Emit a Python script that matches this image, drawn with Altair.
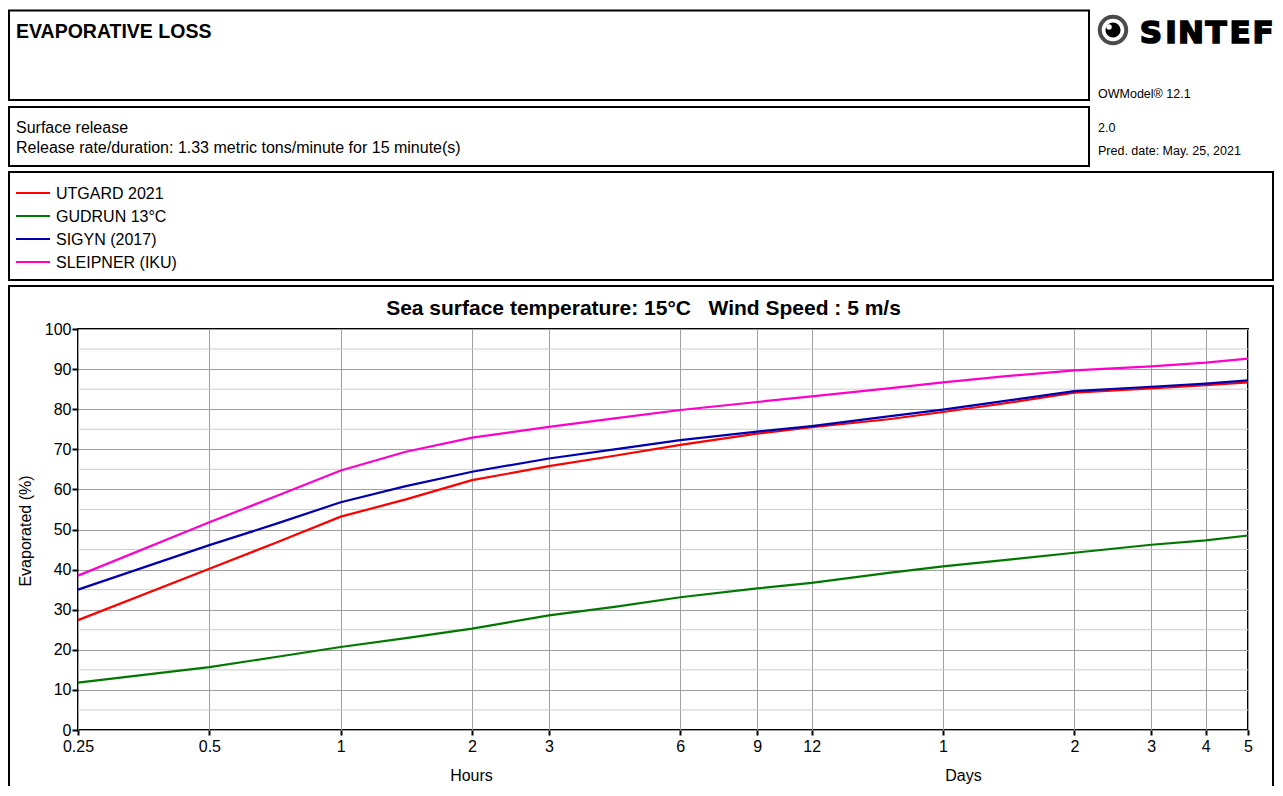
import altair as alt
import pandas as pd

# ---------------- data ----------------
series_names = ["UTGARD 2021", "GUDRUN 13°C", "SIGYN (2017)", "SLEIPNER (IKU)"]
series_colors = ["#ff0000", "#007800", "#0000b0", "#ff00cc"]

hours = [0.25, 0.5, 0.71, 1, 1.41, 2, 3, 4.24, 6, 9, 12, 18, 24, 34, 48, 72, 96, 120]
utgard = [27.4, 40.2, 46.7, 53.2, 57.5, 62.3, 65.8, 68.4, 71.1, 73.9, 75.5, 77.5, 79.3, 81.6, 84.1, 85.2, 86.0, 86.7]
gudrun = [11.8, 15.7, 18.2, 20.7, 22.9, 25.3, 28.6, 30.7, 33.1, 35.3, 36.7, 39.2, 40.8, 42.5, 44.2, 46.2, 47.3, 48.5]
sigyn = [35.0, 46.1, 51.4, 56.8, 60.8, 64.4, 67.7, 70.0, 72.3, 74.4, 75.8, 78.2, 79.9, 82.2, 84.5, 85.6, 86.4, 87.2]
sleipner = [38.5, 51.8, 58.3, 64.7, 69.4, 72.9, 75.6, 77.7, 79.8, 81.8, 83.2, 85.2, 86.7, 88.3, 89.7, 90.7, 91.6, 92.6]
series_values = [utgard, gudrun, sigyn, sleipner]

x_tick_values = [0.25, 0.5, 1, 2, 3, 6, 9, 12, 24, 48, 72, 96, 120]
y_major = [0, 10, 20, 30, 40, 50, 60, 70, 80, 90, 100]
y_minor = [5, 15, 25, 35, 45, 55, 65, 75, 85, 95]

report_title = "EVAPORATIVE LOSS"
release_lines = ["Surface release",
                 "Release rate/duration: 1.33 metric tons/minute for 15 minute(s)"]
info_lines = ["OWModel® 12.1", "2.0", "Pred. date: May. 25, 2021"]
logo_text = "SINTEF"
chart_title = "Sea surface temperature: 15°C\u00a0\u00a0\u00a0Wind Speed : 5 m/s"
y_title = "Evaporated (%)"
x_titles = ["Hours", "Days"]

# ---------------- layout (page pixels) ----------------
PX0, PY0 = 78, 329
W, H = 1170, 401
FONT = "Liberation Sans"


def cx(px):
    return px - PX0


def cy(py):
    return py - PY0


one = pd.DataFrame({"k": [0]})

rows = []
for name, vals in zip(series_names, series_values):
    for h, v in zip(hours, vals):
        rows.append({"series": name, "hours": h, "evap": v})
df = pd.DataFrame(rows)

x_enc = alt.X(
    "hours:Q",
    scale=alt.Scale(type="log", domain=[0.25, 120], nice=False),
    axis=alt.Axis(
        values=x_tick_values,
        labelExpr="datum.value >= 24 ? '' + (datum.value / 24) : '' + datum.value",
        title=None, grid=True, gridColor="#a0a0a0", gridWidth=1,
        tickSize=5, tickWidth=2, tickColor="black", domain=False,
        labelFont=FONT, labelFontSize=16, labelColor="black", labelPadding=3,
        labelFlush=False, labelOverlap=False, labelBound=False,
    ),
)
y_enc = alt.Y(
    "evap:Q",
    scale=alt.Scale(domain=[0, 100], nice=False),
    axis=alt.Axis(
        values=y_major, title=None, grid=True, gridColor="#a0a0a0", gridWidth=1,
        tickSize=6, tickWidth=2, tickColor="black", domain=False,
        labelFont=FONT, labelFontSize=16, labelColor="black", labelPadding=1,
    ),
)

minor = alt.Chart(pd.DataFrame({"evap": y_minor})).mark_rule(
    color="#cccccc", strokeWidth=1
).encode(y=y_enc)

lines = alt.Chart(df).mark_line(strokeWidth=2.2).encode(
    x=x_enc,
    y=y_enc,
    color=alt.Color("series:N", scale=alt.Scale(domain=series_names, range=series_colors), legend=None),
    detail="series:N",
)

layers = [minor, lines]

# boxes
boxes = [
    (9, 1089, 10.5, 100),
    (9, 1089, 107, 166),
    (9, 1273, 172, 280),
    (9, 1273, 286, 820),
]
for x1, x2, y1, y2 in boxes:
    layers.append(
        alt.Chart(one).mark_rect(fillOpacity=0, stroke="black", strokeWidth=2).encode(
            x=alt.value(cx(x1)), x2=alt.value(cx(x2)), y=alt.value(cy(y1)), y2=alt.value(cy(y2))
        )
    )


def text_layer(txt, px, py, size, weight="normal", align="left", font=FONT, angle=0, stroke=None):
    kw = dict(align=align, baseline="alphabetic", font=font, fontSize=size,
              fontWeight=weight, color="black")
    if angle:
        kw["angle"] = angle
    if stroke:
        kw["stroke"] = "black"
        kw["strokeWidth"] = stroke
    return alt.Chart(one).mark_text(**kw).encode(
        x=alt.value(cx(px)), y=alt.value(cy(py)), text=alt.value(txt)
    )


layers.append(text_layer(report_title, 16, 38, 19.5, "bold"))
layers.append(text_layer(release_lines[0], 16, 133, 16))
layers.append(text_layer(release_lines[1], 16, 153, 16))
for txt, py in zip(info_lines, [98, 132, 155]):
    layers.append(text_layer(txt, 1098, py, 12.5))

# logo
layers.append(alt.Chart(one).mark_point(shape="circle", filled=False, stroke="black", strokeWidth=4, size=700).encode(
    x=alt.value(cx(1113)), y=alt.value(cy(30))))
layers.append(alt.Chart(one).mark_point(shape="circle", filled=True, color="black", opacity=1, size=230).encode(
    x=alt.value(cx(1113)), y=alt.value(cy(30))))
layers.append(alt.Chart(one).mark_point(shape="circle", filled=True, color="white", opacity=1, size=30).encode(
    x=alt.value(cx(1109)), y=alt.value(cy(27))))
for ch, px in zip(logo_text, [1151, 1171, 1191, 1216, 1240, 1263]):
    layers.append(text_layer(ch, px, 43, 31, "bold", align="center", font="DejaVu Sans", stroke=1.6))

# legend
for i, (name, col) in enumerate(zip(series_names, series_colors)):
    layers.append(alt.Chart(one).mark_rule(strokeWidth=2.2, color=col).encode(
        x=alt.value(cx(16)), x2=alt.value(cx(50)), y=alt.value(cy(193 + 23 * i))))
    layers.append(text_layer(name, 56, 199 + 23 * i, 16))

# chart title and axis titles
layers.append(text_layer(chart_title, 643.5, 315, 21, "bold", align="center"))
layers.append(text_layer(y_title, 31, 531, 16, align="center", angle=270))
layers.append(text_layer(x_titles[0], 471.5, 781, 16, align="center"))
layers.append(text_layer(x_titles[1], 963.5, 781, 16, align="center"))

chart = alt.layer(*layers).properties(
    width=W, height=H,
    padding={"left": 70, "top": 321, "right": 27, "bottom": 56},
    autosize=alt.AutoSizeParams(type="none"),
    background="white",
).configure_view(stroke="black", strokeWidth=2)

chart.save("out.html", embed_options={"renderer": "svg", "actions": False})
